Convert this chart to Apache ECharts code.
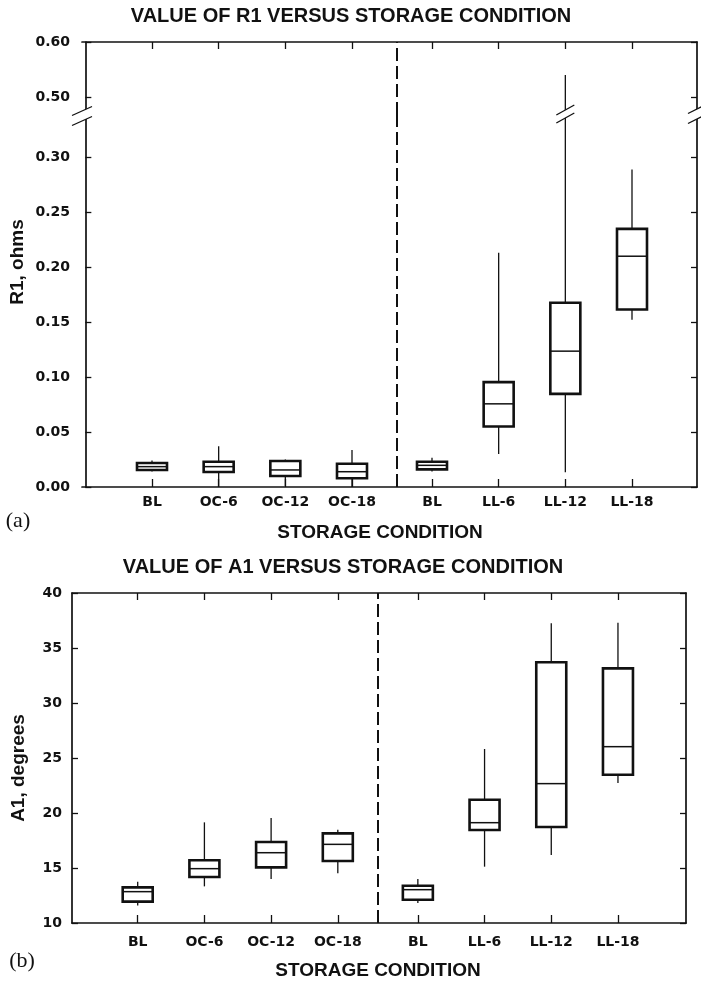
<!DOCTYPE html>
<html><head><meta charset="utf-8">
<script src="https://cdn.jsdelivr.net/npm/echarts@6/dist/echarts.min.js"></script>
<style>html,body{margin:0;padding:0;background:#fff}#c{width:701px;height:982px}</style>
</head><body><div id="c"></div>
<script>
// ---------- data ----------
const categories = ['BL', 'OC-6', 'OC-12', 'OC-18', 'BL', 'LL-6', 'LL-12', 'LL-18'];
const positions  = [1, 2, 3, 4, 5.2, 6.2, 7.2, 8.2];
const r1DividerX = 4.675;
const a1DividerX = 4.6;

// R1, ohms  (box plot: min, Q1, median, Q3, max)
const r1Min = [0.014, 0.000, 0.001, 0.000, 0.014, 0.030, 0.0135, 0.152];
const r1Q1  = [0.0155, 0.0136, 0.010, 0.0079, 0.016, 0.055, 0.0847, 0.1614];
const r1Med = [0.0185, 0.0185, 0.0155, 0.0139, 0.0197, 0.0756, 0.1235, 0.2098];
const r1Q3  = [0.0218, 0.023, 0.0236, 0.0212, 0.023, 0.0953, 0.1675, 0.2347];
const r1Max = [0.024, 0.037, 0.025, 0.0336, 0.0266, 0.213, 0.54, 0.2886];
const r1TicksLower = [0, 0.05, 0.10, 0.15, 0.20, 0.25, 0.30];
const r1TicksUpper = [0.50, 0.60];

// A1, degrees
const a1Min = [11.58, 13.33, 14.0, 14.52, 11.82, 15.12, 16.18, 22.73];
const a1Q1  = [11.94, 14.18, 15.06, 15.64, 12.12, 18.45, 18.73, 23.48];
const a1Med = [12.85, 14.94, 16.39, 17.15, 13.03, 19.12, 22.67, 26.03];
const a1Q3  = [13.24, 15.70, 17.36, 18.15, 13.39, 21.21, 33.70, 33.15];
const a1Max = [13.76, 19.15, 19.55, 18.48, 14.0, 25.82, 37.25, 37.3];
const a1Ticks = [10, 15, 20, 25, 30, 35, 40];

// ---------- layout / style ----------
const INK = '#111';
const TICK_FONT = 'DejaVu Sans';
const BOX_W = 30;
// top chart: upper segment 550 px/unit, lower segment 1100 px/unit
const topUpper = {left: 82, top: 42, width: 615, height: 73};
const topLower = {left: 82, top: 115, width: 615, height: 372};
const bottomG  = {left: 72, top: 593, width: 614, height: 330};
const upperMin = 0.6 - topUpper.height / 550;
const lowerMax = topLower.height / 1100;

const r1Data = positions.map((x, i) => [x, r1Min[i], r1Q1[i], r1Med[i], r1Q3[i], r1Max[i]]);
const a1Data = positions.map((x, i) => [x, a1Min[i], a1Q1[i], a1Med[i], a1Q3[i], a1Max[i]]);

function catName(v) {
  for (let i = 0; i < positions.length; i++) if (Math.abs(positions[i] - v) < 1e-6) return categories[i];
  return '';
}

function renderBox(params, api) {
  const cs = params.coordSys;
  const top = cs.y, bot = cs.y + cs.height;
  const clampY = y => Math.max(top, Math.min(bot, y));
  const x = api.value(0);
  const pt = k => api.coord([x, api.value(k)]);
  const px = pt(1)[0];
  const yMin = clampY(pt(1)[1]), yQ1 = clampY(pt(2)[1]);
  const medRaw = pt(3)[1];
  const yQ3 = clampY(pt(4)[1]), yMax = clampY(pt(5)[1]);
  const hw = BOX_W / 2;
  const ch = [];
  if (yQ3 - yMax > 0.5) ch.push({type: 'line', shape: {x1: px, y1: yQ3, x2: px, y2: yMax}, style: {stroke: INK, lineWidth: 1.3}});
  if (yMin - yQ1 > 0.5) ch.push({type: 'line', shape: {x1: px, y1: yQ1, x2: px, y2: yMin}, style: {stroke: INK, lineWidth: 1.3}});
  if (yQ1 - yQ3 > 0.5) {
    ch.push({type: 'rect', shape: {x: px - hw, y: yQ3, width: 2 * hw, height: yQ1 - yQ3}, style: {fill: 'none', stroke: INK, lineWidth: 2.6}});
    if (medRaw > top && medRaw < bot) ch.push({type: 'line', shape: {x1: px - hw, y1: medRaw, x2: px + hw, y2: medRaw}, style: {stroke: INK, lineWidth: 1.5}});
  }
  return {type: 'group', children: ch};
}

function divider(x) {
  return {symbol: 'none', silent: true, animation: false, label: {show: false},
    lineStyle: {color: INK, width: 2, type: [13, 5]}, data: [{xAxis: x}]};
}

const axisLineStyle = {show: true, lineStyle: {color: INK, width: 1.7}};
const tickIn = (vals, len) => ({show: true, inside: true, length: len, customValues: vals, lineStyle: {color: INK, width: 1.3}});
const yLabel = (vals, digits, margin) => ({show: true, customValues: vals, margin: margin, color: INK,
  fontFamily: TICK_FONT, fontWeight: 'bold', fontSize: 14, formatter: v => Number(v).toFixed(digits)});
const xLabel = margin => ({show: true, customValues: positions, margin: margin, color: INK,
  fontFamily: TICK_FONT, fontWeight: 'bold', fontSize: 14, formatter: v => catName(v)});
const noLabel = {show: false};

const chart = echarts.init(document.getElementById('c'), null, {renderer: 'canvas'});

chart.setOption({
  animation: false,
  backgroundColor: '#fff',
  grid: [topUpper, topLower, bottomG],
  xAxis: [
    {gridIndex: 0, type: 'value', position: 'top', min: -0.05, max: 9.175, axisLine: axisLineStyle,
      axisTick: tickIn(positions, 7), axisLabel: noLabel, splitLine: {show: false}},
    {gridIndex: 1, type: 'value', position: 'bottom', min: -0.05, max: 9.175, axisLine: axisLineStyle,
      axisTick: tickIn(positions, 8), axisLabel: xLabel(8), splitLine: {show: false}},
    {gridIndex: 2, type: 'value', position: 'bottom', min: 0.015, max: 9.22, axisLine: axisLineStyle,
      axisTick: tickIn(positions, 8), axisLabel: xLabel(12), splitLine: {show: false}},
    {gridIndex: 2, type: 'value', position: 'top', min: 0.015, max: 9.22, axisLine: axisLineStyle,
      axisTick: tickIn(positions, 7), axisLabel: noLabel, splitLine: {show: false}}
  ],
  yAxis: [
    {gridIndex: 0, type: 'value', position: 'left', min: upperMin, max: 0.6, axisLine: axisLineStyle,
      axisTick: tickIn(r1TicksUpper, 6), axisLabel: yLabel(r1TicksUpper, 2, 12), splitLine: {show: false}},
    {gridIndex: 0, type: 'value', position: 'right', min: upperMin, max: 0.6, axisLine: axisLineStyle,
      axisTick: tickIn(r1TicksUpper, 6), axisLabel: noLabel, splitLine: {show: false}},
    {gridIndex: 1, type: 'value', position: 'left', min: 0, max: lowerMax, axisLine: axisLineStyle,
      axisTick: tickIn(r1TicksLower, 6), axisLabel: yLabel(r1TicksLower, 2, 12), splitLine: {show: false}},
    {gridIndex: 1, type: 'value', position: 'right', min: 0, max: lowerMax, axisLine: axisLineStyle,
      axisTick: tickIn(r1TicksLower, 6), axisLabel: noLabel, splitLine: {show: false}},
    {gridIndex: 2, type: 'value', position: 'left', min: 10, max: 40, interval: 5, axisLine: axisLineStyle,
      axisTick: tickIn(a1Ticks, 6), axisLabel: yLabel(a1Ticks, 0, 10), splitLine: {show: false}},
    {gridIndex: 2, type: 'value', position: 'right', min: 10, max: 40, interval: 5, axisLine: axisLineStyle,
      axisTick: tickIn(a1Ticks, 6), axisLabel: noLabel, splitLine: {show: false}}
  ],
  series: [
    {type: 'custom', name: 'R1 upper', xAxisIndex: 0, yAxisIndex: 0, data: r1Data, renderItem: renderBox,
      encode: {x: 0, y: [1, 2, 3, 4, 5]}, markLine: divider(r1DividerX), silent: true},
    {type: 'custom', name: 'R1 lower', xAxisIndex: 1, yAxisIndex: 2, data: r1Data, renderItem: renderBox,
      encode: {x: 0, y: [1, 2, 3, 4, 5]}, markLine: divider(r1DividerX), silent: true},
    {type: 'custom', name: 'A1', xAxisIndex: 2, yAxisIndex: 4, data: a1Data, renderItem: renderBox,
      encode: {x: 0, y: [1, 2, 3, 4, 5]}, markLine: divider(a1DividerX), silent: true}
  ]
});

function breakMark(cx, cy, w, h, d) {
  return [
    {type: 'polygon', shape: {points: [[cx - w, cy - d + h], [cx + w, cy - d - h], [cx + w, cy + d - h], [cx - w, cy + d + h]]},
      style: {fill: '#fff'}, z: 100, silent: true},
    {type: 'line', shape: {x1: cx - w, y1: cy - d + h, x2: cx + w, y2: cy - d - h}, style: {stroke: INK, lineWidth: 1.3}, z: 101, silent: true},
    {type: 'line', shape: {x1: cx - w, y1: cy + d + h, x2: cx + w, y2: cy + d - h}, style: {stroke: INK, lineWidth: 1.3}, z: 101, silent: true}
  ];
}

const ll12X = chart.convertToPixel({xAxisIndex: 1}, positions[6]);
const titleFont = 'bold 20px "Liberation Sans", Arial, sans-serif';
const nameFont = 'bold 19px "Liberation Sans", Arial, sans-serif';
const txt = (text, x, y, font, extra) => Object.assign({type: 'text', x: x, y: y, silent: true, z: 110,
  style: {text: text, font: font, fill: INK, align: 'center', verticalAlign: 'middle'}}, extra || {});

chart.setOption({
  graphic: [].concat(
    breakMark(topLower.left, 116, 10, 4.5, 5),
    breakMark(topLower.left + topLower.width, 114, 9, 4.5, 5),
    breakMark(ll12X, 114, 9, 5, 4),
    [
      txt('VALUE OF R1 VERSUS STORAGE CONDITION', 351, 16, titleFont),
      txt('VALUE OF A1 VERSUS STORAGE CONDITION', 343, 567, titleFont),
      txt('R1, ohms', 18, 262, nameFont, {rotation: Math.PI / 2}),
      txt('A1, degrees', 19, 768, nameFont, {rotation: Math.PI / 2}),
      txt('STORAGE CONDITION', 380, 533, nameFont),
      txt('STORAGE CONDITION', 378, 971, nameFont),
      txt('(a)', 18, 521, '22px "Liberation Serif", serif'),
      txt('(b)', 22, 961, '22px "Liberation Serif", serif')
    ]
  )
});
</script>
</body></html>
